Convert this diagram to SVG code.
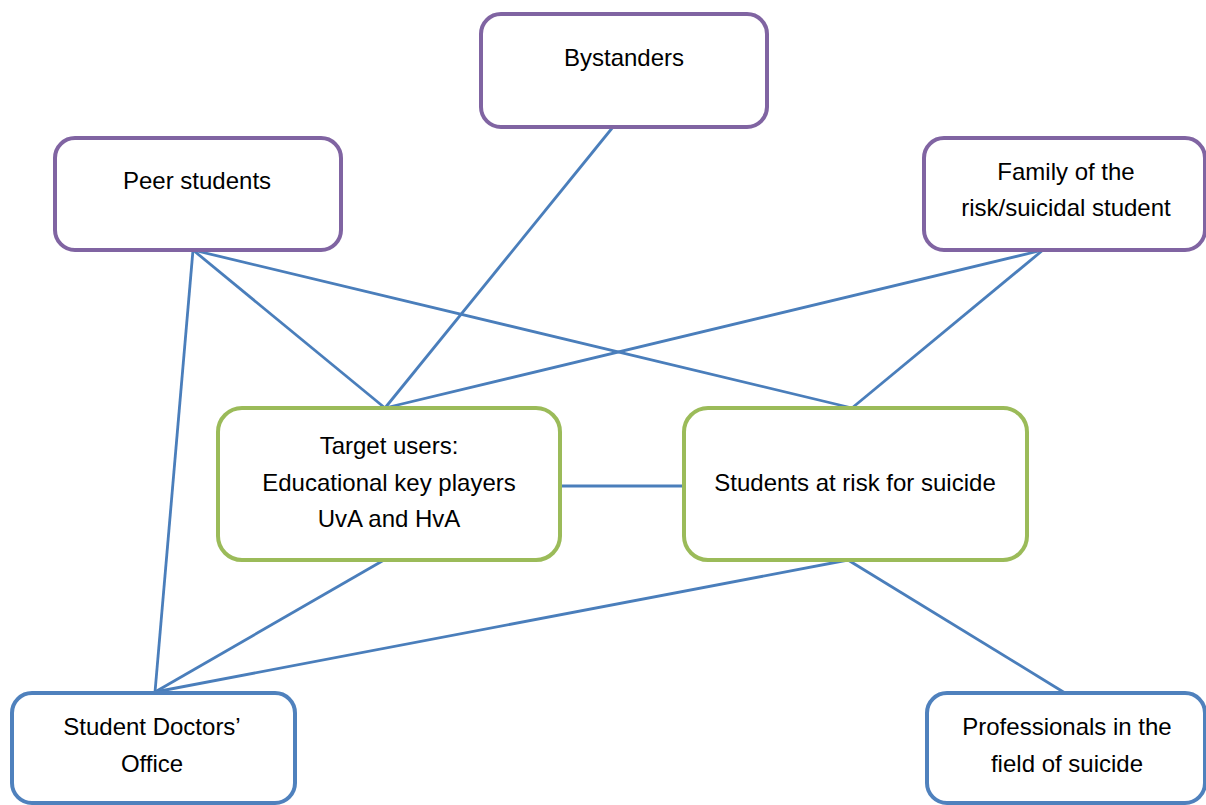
<svg xmlns="http://www.w3.org/2000/svg" width="1206" height="805" viewBox="0 0 1206 805">
<style>
.box{fill:#fff;stroke-width:4}
.p{stroke:#8064a2}
.g{stroke:#9bbb59}
.b{stroke:#4f81bd}
text{font-family:"Liberation Sans",Arial,sans-serif;font-size:24px;fill:#000;text-anchor:middle}
#connectors line{stroke:#4a7ebb;stroke-width:2.8}
</style>
<rect width="1206" height="805" fill="#fff"/>
<g id="connectors">
<line x1="613" y1="127" x2="385" y2="408"/>
<line x1="193" y1="250" x2="385" y2="408"/>
<line x1="193" y1="250" x2="852" y2="408"/>
<line x1="193" y1="250" x2="155" y2="692"/>
<line x1="1043" y1="250" x2="385" y2="408"/>
<line x1="1043" y1="250" x2="852" y2="408"/>
<line x1="560" y1="486" x2="684" y2="486"/>
<line x1="384" y1="560" x2="155" y2="692"/>
<line x1="848" y1="560" x2="155" y2="692"/>
<line x1="848" y1="560" x2="1065" y2="693"/>
</g>
<g id="bystanders"><rect class="box p" x="481" y="14" width="286" height="113" rx="20"/><text x="624" y="66">Bystanders</text></g>
<g id="peer"><rect class="box p" x="55" y="138" width="286" height="112" rx="20"/><text x="197" y="189">Peer students</text></g>
<g id="family"><rect class="box p" x="924" y="138" width="281" height="112" rx="20"/><text x="1066" y="180">Family of the</text><text x="1066" y="216">risk/suicidal student</text></g>
<g id="target"><rect class="box g" x="218" y="408" width="342" height="152" rx="24"/><text x="389" y="454">Target users:</text><text x="389" y="491">Educational key players</text><text x="389" y="527">UvA and HvA</text></g>
<g id="atrisk"><rect class="box g" x="684" y="408" width="343" height="152" rx="24"/><text x="855" y="491">Students at risk for suicide</text></g>
<g id="doctors"><rect class="box b" x="12" y="693" width="283" height="110" rx="20"/><text x="152" y="735">Student Doctors’</text><text x="152" y="772">Office</text></g>
<g id="professionals"><rect class="box b" x="927" y="693" width="278" height="110" rx="20"/><text x="1067" y="735">Professionals in the</text><text x="1067" y="772">field of suicide</text></g>
</svg>
